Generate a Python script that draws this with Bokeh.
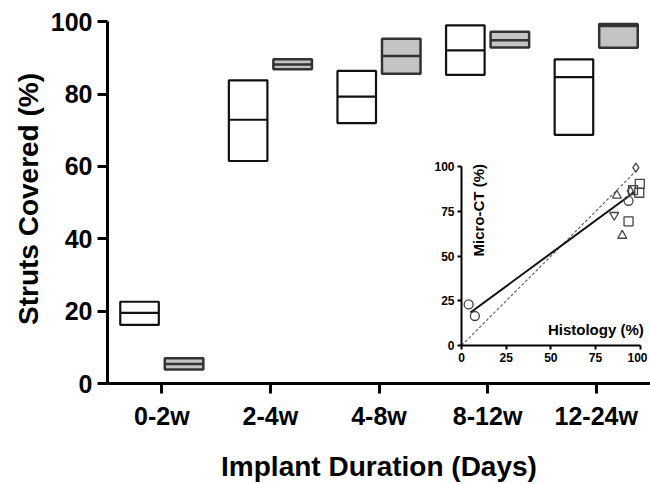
from bokeh.plotting import figure
from bokeh.models import Range1d, FixedTicker, Label
from bokeh.embed import file_html
from bokeh.resources import INLINE
import numpy as np

# ---- main chart data (floating bars: min, median, max) ----
categories = ["0-2w", "2-4w", "4-8w", "8-12w", "12-24w"]
ct_min = [16.2, 61.5, 72.0, 85.3, 68.7]
ct_med = [19.5, 72.9, 79.3, 92.1, 84.7]
ct_max = [22.6, 83.8, 86.4, 99.0, 89.6]
hist_min = [3.9, 86.9, 85.6, 92.9, 92.8]
hist_med = [5.4, 88.2, 90.5, 94.9, 98.8]
hist_max = [7.0, 89.6, 95.3, 97.2, 99.4]
y_ticks = [0, 20, 40, 60, 80, 100]

# ---- inset data: Micro-CT vs Histology ----
circle_hist = [4.0, 7.5, 93.5]
circle_ct = [23.0, 16.5, 81.0]
square_hist = [99.8, 99.5, 93.5, 96.0]
square_ct = [90.5, 85.5, 69.5, 87.0]
tri_up_hist = [87.0, 90.0]
tri_up_ct = [84.0, 61.5]
tri_down_hist = [85.5]
tri_down_ct = [73.0]
diamond_hist = [97.6, 94.5]
diamond_ct = [99.6, 86.5]
fit_slope = 0.735
fit_intercept = 14.8
fit_x = [5.0, 97.0]
identity_x = [0.0, 98.0]
inset_ticks = [0, 25, 50, 75, 100]

FONT = "Liberation Sans"

# ================= main figure =================
p = figure(width=642, height=476, output_backend="svg", toolbar_location=None,
           x_range=Range1d(-0.5, 4.5), y_range=Range1d(0, 102),
           min_border_left=99, min_border_right=0, min_border_top=6,
           min_border_bottom=101)
p.outline_line_color = None
p.xgrid.visible = False
p.ygrid.visible = False
p.background_fill_color = "white"
p.styles = {"position": "absolute", "left": "8px", "top": "8px"}

xi = np.arange(len(categories))
off = 0.205
bw = 0.355

p.vbar(x=xi - off, width=bw, bottom=ct_min, top=ct_max,
       fill_color="white", line_color="#111111", line_width=2.2)
p.segment(x0=xi - off - bw / 2, x1=xi - off + bw / 2, y0=ct_med, y1=ct_med,
          line_color="#111111", line_width=2.2)
p.vbar(x=xi + off, width=bw, bottom=hist_min, top=hist_max,
       fill_color="#c4c4c4", line_color="#333333", line_width=2.5)
p.segment(x0=xi + off - bw / 2, x1=xi + off + bw / 2, y0=hist_med, y1=hist_med,
          line_color="#333333", line_width=2.5)

p.xaxis.ticker = FixedTicker(ticks=list(xi))
p.xaxis.major_label_overrides = {int(i): c for i, c in zip(xi, categories)}
p.yaxis.ticker = FixedTicker(ticks=y_ticks)
p.yaxis.bounds = (0, 100)

for ax in (p.xaxis[0], p.yaxis[0]):
    ax.axis_line_width = 3
    ax.axis_line_color = "black"
    ax.major_tick_line_width = 3
    ax.major_tick_line_color = "black"
    ax.major_tick_out = 10
    ax.major_tick_in = 0
    ax.minor_tick_line_color = None
    ax.major_label_text_font = FONT
    ax.major_label_text_font_style = "bold"
    ax.major_label_text_font_size = "25px"
    ax.major_label_text_color = "black"
    ax.axis_label_text_font = FONT
    ax.axis_label_text_font_style = "bold"
    ax.axis_label_text_font_size = "28px"
    ax.axis_label_text_color = "black"

p.xaxis.axis_label = "Implant Duration (Days)"
p.yaxis.axis_label = "Struts Covered (%)"
p.xaxis.major_label_standoff = 8
p.yaxis.major_label_standoff = 5
p.xaxis.axis_label_standoff = 18
p.yaxis.axis_label_standoff = 4

# ================= inset figure =================
q = figure(width=226, height=216, output_backend="svg", toolbar_location=None,
           x_range=Range1d(0, 103), y_range=Range1d(0, 103),
           min_border_left=40, min_border_right=2, min_border_top=2,
           min_border_bottom=30)
q.outline_line_color = None
q.xgrid.visible = False
q.ygrid.visible = False
q.background_fill_alpha = 0
q.border_fill_alpha = 0
q.styles = {"position": "absolute", "left": "421px", "top": "159px"}

q.line(x=identity_x, y=identity_x, line_color="#666666", line_width=1.2,
       line_dash="3 2")
fx = np.array(fit_x)
q.line(x=fx, y=fit_slope * fx + fit_intercept, line_color="#111111", line_width=2)

mk = dict(fill_color=None, line_color="#444444", line_width=1.3, size=9)
q.scatter(circle_hist, circle_ct, marker="circle", **mk)
q.scatter(square_hist, square_ct, marker="square", **mk)
q.scatter(tri_up_hist, tri_up_ct, marker="triangle", **mk)
q.scatter(tri_down_hist, tri_down_ct, marker="inverted_triangle", **mk)
q.scatter(diamond_hist, diamond_ct, marker="diamond", **mk)

for ax in (q.xaxis[0], q.yaxis[0]):
    ax.ticker = FixedTicker(ticks=inset_ticks)
    ax.bounds = (0, 100)
    ax.axis_line_width = 2
    ax.axis_line_color = "black"
    ax.major_tick_line_width = 2
    ax.major_tick_line_color = "black"
    ax.major_tick_out = 4
    ax.major_tick_in = 0
    ax.minor_tick_line_color = None
    ax.major_label_text_font = FONT
    ax.major_label_text_font_style = "bold"
    ax.major_label_text_font_size = "12px"
    ax.major_label_text_color = "black"
    ax.major_label_standoff = 3

q.add_layout(Label(x=9.3, y=75.7, text="Micro-CT (%)", angle=np.pi / 2,
                   text_align="center", text_baseline="middle",
                   text_font=FONT, text_font_style="bold",
                   text_font_size="15px", text_color="black"))
q.add_layout(Label(x=75.2, y=8.8, text="Histology (%)",
                   text_align="center", text_baseline="middle",
                   text_font=FONT, text_font_style="bold",
                   text_font_size="15px", text_color="black"))

open("out.html", "w").write(file_html((p, q), INLINE))
